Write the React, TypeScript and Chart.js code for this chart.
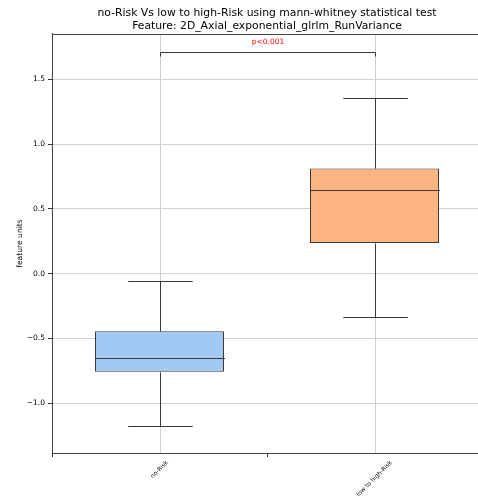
import React, { useEffect, useRef } from 'react';
import { Chart, registerables } from 'chart.js';

Chart.register(...registerables);

const categories = ['no-Risk', 'low to high-Risk'];
const whiskerLow = [-1.175, -0.334];
const q1 = [-0.756, 0.237];
const median = [-0.654, 0.646];
const q3 = [-0.445, 0.8125];
const whiskerHigh = [-0.059, 1.358];
const boxColors = ['#a1c9f4', '#ffb482'];
const yTicks = [-1.0, -0.5, 0.0, 0.5, 1.0, 1.5];
const yMin = -1.3835;
const yMax = 1.8495;
const titleLines = [
  'no-Risk Vs low to high-Risk using mann-whitney statistical test',
  'Feature: 2D_Axial_exponential_glrlm_RunVariance',
];
const yLabel = 'feature units';
const pValueText = 'p<0.001';
const bracketLevel = 1.707;
const bracketTip = 1.68;

const FONT = "'DejaVu Sans', sans-serif";
const EDGE = '#3a3a3a';
const CANVAS_W = 600;
const PLOT_RIGHT = 482;

const boxPlugin = {
  id: 'boxExtras',
  beforeDatasetsDraw(chart: any) {
    const { ctx, chartArea, scales } = chart;
    const x = scales.x;
    ctx.save();
    ctx.strokeStyle = '#d0d0d0';
    ctx.lineWidth = 1;
    categories.forEach((_, i) => {
      const px = Math.round(x.getPixelForValue(i)) + 0.5;
      ctx.beginPath();
      ctx.moveTo(px, chartArea.top);
      ctx.lineTo(px, chartArea.bottom);
      ctx.stroke();
    });
    ctx.restore();
  },
  afterDatasetsDraw(chart: any) {
    const { ctx, chartArea, scales } = chart;
    const x = scales.x;
    const y = scales.y;
    const meta = chart.getDatasetMeta(0);
    const line = (x0: number, y0: number, x1: number, y1: number) => {
      ctx.beginPath();
      ctx.moveTo(x0, y0);
      ctx.lineTo(x1, y1);
      ctx.stroke();
    };
    const py = (v: number) => Math.round(y.getPixelForValue(v)) + 0.5;
    ctx.save();
    ctx.strokeStyle = EDGE;
    ctx.lineWidth = 1;
    categories.forEach((_, i) => {
      const cx = Math.round(x.getPixelForValue(i)) + 0.5;
      const bw = meta.data[i].width;
      const capHalf = bw / 4;
      line(cx, py(q3[i]), cx, py(whiskerHigh[i]));
      line(cx, py(q1[i]), cx, py(whiskerLow[i]));
      line(cx - capHalf, py(whiskerHigh[i]), cx + capHalf, py(whiskerHigh[i]));
      line(cx - capHalf, py(whiskerLow[i]), cx + capHalf, py(whiskerLow[i]));
      line(cx - bw / 2, py(median[i]), cx + bw / 2, py(median[i]));
    });
    // significance bracket
    const bx0 = Math.round(x.getPixelForValue(0)) + 0.5;
    const bx1 = Math.round(x.getPixelForValue(1)) + 0.5;
    const by = py(bracketLevel);
    const bt = py(bracketTip);
    ctx.beginPath();
    ctx.moveTo(bx0, bt);
    ctx.lineTo(bx0, by);
    ctx.lineTo(bx1, by);
    ctx.lineTo(bx1, bt);
    ctx.stroke();
    ctx.fillStyle = '#ff0000';
    ctx.font = `7.5px ${FONT}`;
    ctx.textAlign = 'center';
    ctx.textBaseline = 'middle';
    ctx.fillText(pValueText, (bx0 + bx1) / 2, by - 10.6);
    // top spine (right spine lies outside the visible window)
    ctx.strokeStyle = '#444';
    const ty = Math.round(chartArea.top) + 0.5;
    line(chartArea.left, ty, chartArea.right, ty);
    ctx.restore();
  },
  afterDraw(chart: any) {
    const { ctx, chartArea, scales } = chart;
    const x = scales.x;
    ctx.save();
    ctx.fillStyle = '#000';
    const size = 6;
    ctx.font = `${size}px ${FONT}`;
    ctx.textAlign = 'center';
    ctx.textBaseline = 'middle';
    categories.forEach((label, i) => {
      const px = x.getPixelForValue(i);
      const w = ctx.measureText(label).width;
      const h = size * 1.16;
      const bboxH = (w + h) * Math.SQRT1_2;
      const top = chartArea.bottom + 6.3;
      ctx.save();
      ctx.translate(px, top + bboxH / 2);
      ctx.rotate(-Math.PI / 4);
      ctx.fillText(label, 0, 0);
      ctx.restore();
    });
    ctx.restore();
  },
};

export default function App() {
  const ref = useRef<HTMLCanvasElement | null>(null);

  useEffect(() => {
    if (!ref.current) return;
    const chart = new Chart(ref.current, {
      type: 'bar',
      data: {
        labels: categories,
        datasets: [
          {
            data: categories.map((_, i) => [q1[i], q3[i]]) as any,
            backgroundColor: boxColors,
            borderColor: EDGE,
            borderWidth: 1,
            borderSkipped: false,
            barPercentage: 0.6,
            categoryPercentage: 1,
          },
        ],
      },
      options: {
        responsive: false,
        devicePixelRatio: 1,
        animation: false,
        layout: { padding: { left: 0, right: CANVAS_W - PLOT_RIGHT, top: 0, bottom: 0 } },
        plugins: {
          legend: { display: false },
          tooltip: { enabled: false },
          title: {
            display: true,
            text: titleLines,
            fullSize: false,
            color: '#000',
            font: { family: FONT, size: 10.8, weight: 'normal', lineHeight: 1.18 },
            padding: { top: 6.9, bottom: 1.6 },
          },
        },
        scales: {
          x: {
            type: 'category',
            offset: true,
            grid: {
              offset: true,
              drawOnChartArea: false,
              drawTicks: true,
              tickLength: 4,
              tickColor: '#333',
            },
            border: { color: '#444' },
            ticks: { display: false },
            afterFit: (s: any) => {
              s.height = 47;
            },
          },
          y: {
            type: 'linear',
            min: yMin,
            max: yMax,
            grid: { color: '#d0d0d0', tickLength: 4, tickColor: '#333' },
            border: { color: '#444' },
            ticks: {
              padding: 3,
              color: '#000',
              font: { family: FONT, size: 7.5 },
              callback: (v: any) => Number(v).toFixed(1).replace('-', '\u2212'),
            },
            afterBuildTicks: (s: any) => {
              s.ticks = yTicks.map((v) => ({ value: v }));
            },
            title: {
              display: true,
              text: yLabel,
              color: '#000',
              font: { family: FONT, size: 7.6, lineHeight: 1.2 },
              padding: { top: 15.4, bottom: 0 },
            },
            afterFit: (s: any) => {
              s.width = 52;
            },
          },
        },
      },
      plugins: [boxPlugin],
    });
    return () => chart.destroy();
  }, []);

  return (
    <div
      style={{
        position: 'fixed',
        left: 0,
        top: 0,
        width: 478,
        height: 500,
        overflow: 'hidden',
        background: '#fff',
      }}
    >
      <canvas
        ref={ref}
        width={CANVAS_W}
        height={500}
        style={{ display: 'block', width: CANVAS_W, height: 500 }}
      />
    </div>
  );
}
